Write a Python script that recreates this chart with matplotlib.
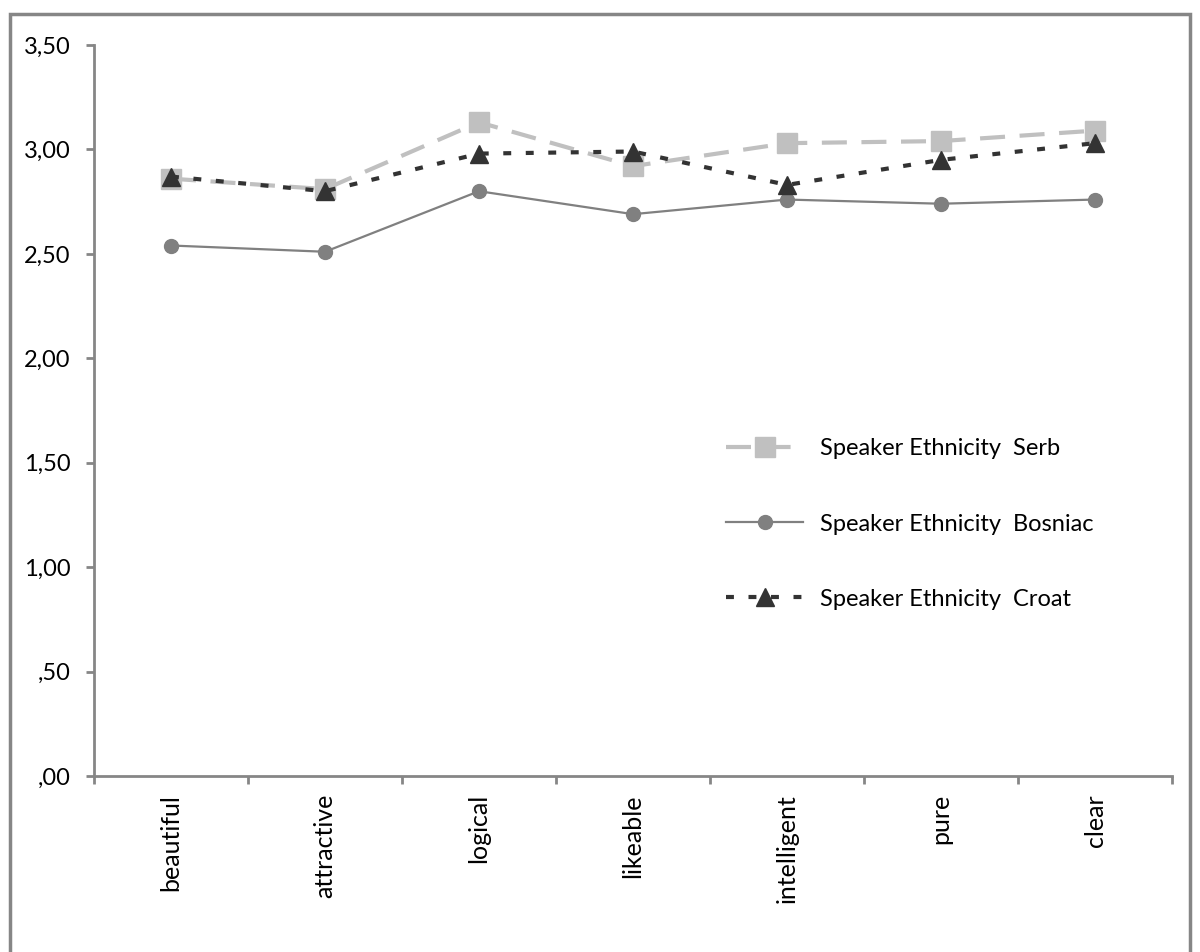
import numpy as np
import matplotlib.pyplot as plt
from matplotlib.patches import Rectangle
from matplotlib.ticker import FixedLocator, FuncFormatter

plt.rcParams["font.family"] = ["Lato", "DejaVu Sans"]

# --- data ---
categories = ["beautiful", "attractive", "logical", "likeable",
              "intelligent", "pure", "clear"]
serb = [2.86, 2.81, 3.13, 2.92, 3.03, 3.04, 3.09]
bosniac = [2.54, 2.51, 2.80, 2.69, 2.76, 2.74, 2.76]
croat = [2.87, 2.80, 2.98, 2.99, 2.83, 2.95, 3.03]
y_ticks = [0.0, 0.5, 1.0, 1.5, 2.0, 2.5, 3.0, 3.5]

fig = plt.figure(figsize=(12, 9.52), dpi=100)
ax = fig.add_axes([94 / 1200, 1 - 776 / 952, (1172 - 94) / 1200, (776 - 45) / 952])

x = np.arange(len(categories))

ax.plot(x, serb, color="#C0C0C0", lw=3, dashes=(6, 3.5), marker="s", ms=15,
        mec="#C0C0C0", mfc="#C0C0C0", label="Speaker Ethnicity  Serb", zorder=3)
ax.plot(x, bosniac, color="#808080", lw=1.6, marker="o", ms=10,
        mec="#808080", mfc="#808080", label="Speaker Ethnicity  Bosniac", zorder=4)
ax.plot(x, croat, color="#333333", lw=3, dashes=(1.9, 3.5), marker="^", ms=13,
        mec="#333333", mfc="#333333", label="Speaker Ethnicity  Croat", zorder=5)

ax.set_xlim(-0.5, len(categories) - 0.5)
ax.set_ylim(0, 3.5)

# y axis
ax.yaxis.set_major_locator(FixedLocator(y_ticks))


def comma_fmt(v, pos):
    s = f"{v:.2f}".replace(".", ",")
    if s.startswith("0"):
        s = s[1:]
    return s


ax.yaxis.set_major_formatter(FuncFormatter(comma_fmt))
ax.tick_params(axis="y", direction="out", length=6, width=2, color="#868686",
               labelsize=17, pad=11)

# x axis: category labels centred, tick marks between categories
ax.set_xticks(x)
ax.set_xticklabels(categories, rotation=90, fontsize=18)
ax.tick_params(axis="x", which="major", length=0, pad=13)
ax.set_xticks(np.arange(-0.5, len(categories)), minor=True)
ax.tick_params(axis="x", which="minor", direction="out", length=6, width=2,
               color="#868686")

for side in ["top", "right"]:
    ax.spines[side].set_visible(False)
for side in ["left", "bottom"]:
    ax.spines[side].set_color("#868686")
    ax.spines[side].set_linewidth(2)

leg = ax.legend(loc="upper left", bbox_to_anchor=(623 / 1078, 1 - (429 - 45) / 731),
                frameon=False, fontsize=17, handlelength=3.26, handletextpad=0.72,
                labelspacing=2.29, borderaxespad=0)

# outer chart border
fig.patches.append(Rectangle((10 / 1200, -0.05), 1180 / 1200, 1 - 14 / 952 + 0.05,
                             transform=fig.transFigure, fill=False,
                             edgecolor="#868686", lw=2.5))

fig.savefig("out.png", dpi=100)
